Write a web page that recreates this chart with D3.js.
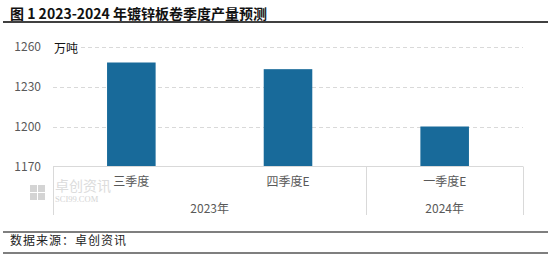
<!DOCTYPE html>
<html>
<head>
<meta charset="utf-8">
<script src="https://cdn.jsdelivr.net/npm/d3@7"></script>
<style>
    body { margin: 0; background: white; }
    svg { display: block; }
</style>
</head>
<body>
<svg id="chart" width="559" height="257"></svg>
<script>
    // Data
    const quarters = ['三季度', '四季度E', '一季度E'];
    const years = ['2023年', '2023年', '2024年'];
    const output = [1248, 1243, 1200];
    const yTicks = [1170, 1200, 1230, 1260];

    // Constants
    const BAR_FILL = '#186a9a';
    const GRID = '#d9d9d9';
    const LABEL = '#595959';
    const FONT = '"Microsoft YaHei", "Noto Sans CJK SC", sans-serif';

    const svg = d3.select('#chart');
    const plot = { left: 53, right: 523, top: 46.5, bottom: 166.5 };

    const x = d3.scaleBand()
        .domain(quarters)
        .range([plot.left, plot.right])
        .paddingInner(0.69)
        .paddingOuter(0.345);

    const y = d3.scaleLinear()
        .domain([1170, 1260])
        .range([plot.bottom, plot.top]);

    // Title
    svg.append('text')
        .attr('x', 10).attr('y', 18.5)
        .attr('font-family', '"Noto Sans CJK SC", sans-serif')
        .attr('font-weight', 'bold')
        .attr('font-size', 14)
        .attr('fill', '#111')
        .text('图 1 2023-2024 年镀锌板卷季度产量预测');
    svg.append('line')
        .attr('x1', 3).attr('x2', 548).attr('y1', 22).attr('y2', 22)
        .attr('stroke', '#000').attr('stroke-width', 1.5);

    // Gridlines
    svg.append('g')
        .selectAll('line')
        .data(yTicks.filter((t) => t > 1170))
        .enter().append('line')
            .attr('x1', plot.left).attr('x2', plot.right)
            .attr('y1', (t) => Math.round(y(t)) + 0.5)
            .attr('y2', (t) => Math.round(y(t)) + 0.5)
            .attr('stroke', GRID)
            .attr('stroke-dasharray', '4,3');

    // Y axis labels
    const yAxis = d3.axisLeft(y).tickValues(yTicks).tickFormat(d3.format('d')).tickSize(0).tickPadding(12);
    svg.append('g')
        .attr('transform', 'translate(' + plot.left + ',0)')
        .call(yAxis)
        .call((g) => g.select('.domain').remove())
        .selectAll('text')
            .attr('font-family', FONT)
            .attr('font-size', 12)
            .attr('fill', LABEL);

    // Unit label
    svg.append('rect')
        .attr('x', 53).attr('y', 40).attr('width', 25).attr('height', 16)
        .attr('fill', 'white');
    svg.append('text')
        .attr('x', 54).attr('y', 53)
        .attr('font-family', FONT)
        .attr('font-size', 12)
        .attr('fill', '#111')
        .text('万吨');

    // Watermark
    const wm = svg.append('g').attr('fill', '#d4d4d4');
    [[30, 185], [38, 185], [30, 193], [38, 193]].forEach((p) => {
        wm.append('rect').attr('x', p[0]).attr('y', p[1]).attr('width', 7).attr('height', 7);
    });
    wm.append('text')
        .attr('x', 55).attr('y', 191)
        .attr('font-family', FONT)
        .attr('font-size', 14)
        .attr('fill', '#dcdcdc')
        .text('卓创资讯');
    wm.append('text')
        .attr('x', 55).attr('y', 202)
        .attr('font-family', '"Liberation Serif", serif')
        .attr('font-size', 8.5)
        .attr('fill', '#d4d4d4')
        .text('SCI99.COM');

    // Bars
    svg.append('g')
        .selectAll('rect')
        .data(output)
        .enter().append('rect')
            .attr('x', (d, i) => x(quarters[i]))
            .attr('width', x.bandwidth())
            .attr('y', (d) => y(d))
            .attr('height', (d) => y(1170) - y(d))
            .attr('fill', BAR_FILL);

    // Category axis
    svg.append('line')
        .attr('x1', plot.left).attr('x2', plot.right)
        .attr('y1', plot.bottom).attr('y2', plot.bottom)
        .attr('stroke', GRID);

    const step = x.step();
    svg.append('g')
        .selectAll('text')
        .data(quarters)
        .enter().append('text')
            .attr('x', (d) => x(d) + x.bandwidth() / 2)
            .attr('y', 186)
            .attr('text-anchor', 'middle')
            .attr('font-family', FONT)
            .attr('font-size', 12)
            .attr('fill', LABEL)
            .text((d) => d);

    // Year groups
    const groups = Array.from(d3.group(quarters, (q) => years[quarters.indexOf(q)]), ([k, v]) => ({ year: k, items: v }));
    const groupEdges = [plot.left];
    groups.forEach((g) => groupEdges.push(groupEdges[groupEdges.length - 1] + g.items.length * step));

    svg.append('g')
        .selectAll('line')
        .data(groupEdges)
        .enter().append('line')
            .attr('x1', (d) => Math.round(d) + 0.5).attr('x2', (d) => Math.round(d) + 0.5)
            .attr('y1', plot.bottom).attr('y2', 215)
            .attr('stroke', GRID);

    svg.append('g')
        .selectAll('text')
        .data(groups)
        .enter().append('text')
            .attr('x', (g, i) => (groupEdges[i] + groupEdges[i + 1]) / 2)
            .attr('y', 213)
            .attr('text-anchor', 'middle')
            .attr('font-family', FONT)
            .attr('font-size', 12)
            .attr('fill', LABEL)
            .text((g) => g.year);

    // Source
    svg.append('line')
        .attr('x1', 3).attr('x2', 548).attr('y1', 232).attr('y2', 232)
        .attr('stroke', '#000').attr('stroke-width', 1.2);
    svg.append('text')
        .attr('x', 10).attr('y', 245)
        .attr('font-family', FONT)
        .attr('font-size', 12)
        .attr('letter-spacing', 1)
        .attr('fill', '#222')
        .text('数据来源：卓创资讯');
    svg.append('line')
        .attr('x1', 3).attr('x2', 548).attr('y1', 253).attr('y2', 253)
        .attr('stroke', '#000').attr('stroke-width', 1.2);
</script>
</body>
</html>
